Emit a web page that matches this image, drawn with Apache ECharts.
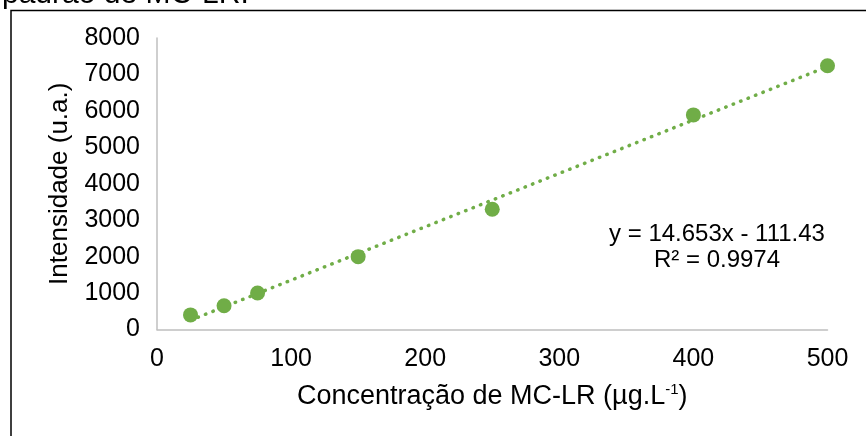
<!DOCTYPE html>
<html>
<head>
<meta charset="utf-8">
<script src="https://cdn.jsdelivr.net/npm/echarts@6/dist/echarts.min.js"></script>
<style>
  html, body { margin: 0; padding: 0; background: #fff; }
  #chart { width: 866px; height: 436px; }
</style>
</head>
<body>
<div id="chart"></div>
<script>
// Calibration standards: MC-LR concentration (µg/L) vs. measured intensity (a.u.)
const concentration = [25, 50, 75, 150, 250, 400, 500];
const intensity = [400, 650, 1000, 2000, 3300, 5890, 7240];

// Linear fit reported for the curve
const slope = 14.653;
const intercept = -111.43;
const rSquared = '0.9974';

const xTicks = { min: 0, max: 500, interval: 100 };
const yTicks = { min: 0, max: 8000, interval: 1000 };

const points = concentration.map((c, i) => [c, intensity[i]]);
const xFirst = concentration[0];
const xLast = concentration[concentration.length - 1];
const fitLine = [
  [xFirst, slope * xFirst + intercept],
  [xLast, slope * xLast + intercept]
];

const green = '#70AD47';
const axisGray = '#BFBFBF';
const font = 'Liberation Sans, Arial, sans-serif';

const chart = echarts.init(document.getElementById('chart'), null, { renderer: 'canvas' });

chart.setOption({
  animation: false,
  backgroundColor: '#fff',
  grid: { left: 157, right: 38.5, top: 38, bottom: 106.5, containLabel: false },
  xAxis: {
    type: 'value',
    min: xTicks.min, max: xTicks.max, interval: xTicks.interval,
    axisLine: { show: true, onZero: false, lineStyle: { color: axisGray, width: 1.5 } },
    axisTick: { show: false },
    splitLine: { show: false },
    axisLabel: { color: '#000', fontFamily: font, fontSize: 25, margin: 17, formatter: v => String(v) },
    name: 'Concentração de MC-LR (µg.L{sup|-1})',
    nameLocation: 'middle',
    nameGap: 53,
    nameTextStyle: {
      color: '#000', fontFamily: font, fontSize: 27,
      rich: {
        sup: { fontFamily: font, fontSize: 15, color: '#000', verticalAlign: 'top', padding: [0, 0, 13, 0] }
      }
    }
  },
  yAxis: {
    type: 'value',
    min: yTicks.min, max: yTicks.max, interval: yTicks.interval,
    axisLine: { show: true, lineStyle: { color: axisGray, width: 1.5 } },
    axisTick: { show: false },
    splitLine: { show: false },
    axisLabel: { color: '#000', fontFamily: font, fontSize: 25, margin: 17, formatter: v => String(v) },
    name: 'Intensidade (u.a.)',
    nameLocation: 'middle',
    nameRotate: 90,
    nameGap: 84,
    nameTextStyle: { color: '#000', fontFamily: font, fontSize: 26 }
  },
  graphic: [
    {
      type: 'rect',
      shape: { x: 11, y: 10.5, width: 900, height: 500 },
      style: { fill: 'none', stroke: '#000', lineWidth: 1.5 },
      silent: true
    },
    {
      type: 'text',
      x: 2, y: -5,
      style: { text: 'padrão de MC-LR.', fill: '#000', font: '30px ' + font, verticalAlign: 'middle' }
    },
    {
      type: 'text',
      x: 717, y: 234,
      style: { text: 'y = 14.653x - 111.43', fill: '#000', font: '24px ' + font, align: 'center', verticalAlign: 'middle' }
    },
    {
      type: 'text',
      x: 717, y: 260,
      style: { text: 'R² = ' + rSquared, fill: '#000', font: '24px ' + font, align: 'center', verticalAlign: 'middle' }
    }
  ],
  series: [
    {
      name: 'Linear fit',
      type: 'line',
      data: fitLine,
      symbol: 'none',
      lineStyle: { color: green, width: 3.5, type: [0.5, 7.5], cap: 'round' },
      z: 2
    },
    {
      name: 'Standards',
      type: 'scatter',
      data: points,
      symbol: 'circle',
      symbolSize: 15,
      itemStyle: { color: green, opacity: 1 },
      z: 3
    }
  ]
});
</script>
</body>
</html>
